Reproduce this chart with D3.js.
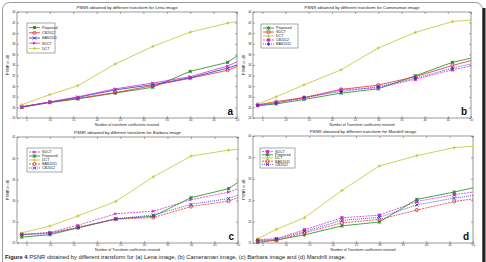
<!DOCTYPE html>
<html><head><meta charset="utf-8">
<script src="https://cdn.jsdelivr.net/npm/d3@7"></script>
<style>
html,body{margin:0;padding:0;background:#fff;}
svg{display:block;font-family:"Liberation Sans",Arial,sans-serif;}
</style></head>
<body>
<svg id="fig" width="486" height="262"></svg>
<script>
// ---------- data ----------
const xAC = [4, 10, 16, 24, 32, 40, 48, 50];
const xBD = [4, 8, 14, 22, 30, 38, 46, 50];
const xTicks = [5, 10, 15, 20, 25, 30, 35, 40, 45, 50];
const yTicksAB = [24, 26, 28, 30, 32, 34, 36, 38, 40, 42, 44];
const yTicksC = [20, 25, 30, 35, 40, 45];
const yTicksD = [15, 20, 25, 30, 35, 40];

// (a) Lena
const lenaProposed = [26.0, 26.9, 27.6, 28.7, 29.8, 32.8, 34.5, 35.7];
const lenaCB2012   = [26.1, 27.0, 27.7, 28.8, 30.1, 31.5, 33.0, 33.7];
const lenaBAS2011  = [26.1, 27.0, 27.9, 29.3, 30.3, 31.6, 33.4, 34.0];
const lenaSDCT     = [26.1, 27.0, 28.0, 29.5, 30.6, 31.8, 33.8, 34.6];
const lenaDCT      = [26.5, 28.4, 30.1, 34.2, 37.5, 40.2, 41.9, 42.2];
// (b) Cameraman
const camProposed = [26.3, 26.65, 27.5, 28.7, 29.5, 31.95, 34.5, 35.3];
const camSDCT     = [26.5, 27.1, 27.85, 29.4, 30.2, 31.8, 33.9, 34.85];
const camDCT      = [26.65, 28.0, 30.25, 33.1, 37.2, 40.15, 42.2, 42.5];
const camCB2012   = [26.4, 26.9, 27.7, 29.3, 29.7, 31.3, 33.1, 33.8];
const camBAS2011  = [26.4, 26.8, 27.9, 29.0, 29.9, 31.5, 33.4, 34.2];
// (c) Barbara
const barSDCT     = [22.0, 22.5, 24.2, 26.9, 27.5, 30.2, 32.0, 32.8];
const barProposed = [21.4, 21.95, 23.6, 25.7, 26.3, 30.7, 32.8, 34.3];
const barDCT      = [22.4, 24.0, 26.4, 29.8, 35.6, 40.5, 41.9, 42.1];
const barBAS2011  = [22.0, 22.4, 23.6, 25.6, 26.0, 28.6, 29.9, 30.7];
const barCB2012   = [22.0, 22.2, 23.7, 25.7, 26.6, 29.1, 30.5, 31.3];
// (d) Mandrill
const manSDCT     = [15.8, 16.0, 18.1, 20.9, 21.5, 24.7, 26.3, 26.9];
const manProposed = [15.1, 15.7, 16.9, 19.0, 19.9, 25.2, 26.9, 27.9];
const manDCT      = [16.0, 18.2, 20.9, 27.3, 33.0, 35.4, 37.3, 37.6];
const manBAS2011  = [15.5, 15.6, 17.4, 19.7, 20.5, 22.7, 24.7, 25.3];
const manCB2012   = [15.6, 15.9, 17.7, 20.3, 21.0, 23.9, 25.5, 26.1];

const titles = [
  "PSNR obtained by different transform for Lena image",
  "PSNR obtained by different transform for Cameraman image",
  "PSNR obtained by different transform for Barbara image",
  "PSNR obtained by different transform for Mandrill image"];
const xLabels = [
  "Number of transform coefficients retained",
  "Number of Transform coefficients retained",
  "Number of Transform coefficients retained",
  "Number of Transform coefficients retained"];
const yLabel = "PSNR in dB";
const letters = ["a", "b", "c", "d"];
const captionBold = "Figure 4";
const captionText = " PSNR obtained by different transform for (a) Lena image, (b) Cameraman image, (c) Barbara image and (d) Mandrill image.";

// ---------- styles ----------
const C = {green:"#1e8a1e", red:"#e03030", blue:"#3030d0", mag:"#d030d0", yel:"#c4c430"};
const st = {
  Proposed:{color:C.green, dash:null, marker:"star"},
  CB2012:{color:C.red, dash:null, marker:"circle"},
  BAS2011:{color:C.blue, dash:null, marker:"x"},
  SDCT:{color:C.mag, dash:null, marker:"tri"},
  DCT:{color:C.yel, dash:null, marker:"plus"}
};

const panels = [
  {box:[17,237,12,118], x:xAC, yd:[24,44], yt:yTicksAB, leg:[27,23,28,30],
   series:[["Proposed",lenaProposed,st.Proposed],["CB2012",lenaCB2012,st.CB2012],["BAS2011",lenaBAS2011,st.BAS2011],["SDCT",lenaSDCT,st.SDCT],["DCT",lenaDCT,st.DCT]]},
  {box:[253,471,12,118], x:xBD, yd:[24,44], yt:yTicksAB, leg:[261,24,37,24],
   series:[["Proposed",camProposed,st.Proposed],["SDCT",camSDCT,{color:C.red,dash:null,marker:"circle"}],["DCT",camDCT,st.DCT],["CB2012",camCB2012,{color:C.mag,dash:"2,1",marker:"square"}],["BAS2011",camBAS2011,{color:C.blue,dash:"1,1",marker:"diamond"}]]},
  {box:[17,238,137,243], x:xAC, yd:[20,45], yt:yTicksC, leg:[27,148,35,24],
   series:[["SDCT",barSDCT,{color:C.mag,dash:"2,1",marker:"tri"}],["Proposed",barProposed,st.Proposed],["DCT",barDCT,st.DCT],["BAS2011",barBAS2011,{color:C.red,dash:"2,1",marker:"circle"}],["CB2012",barCB2012,{color:C.blue,dash:"1,1",marker:"x"}]]},
  {box:[253,473,136,243], x:xBD, yd:[15,40], yt:yTicksD, leg:[260,148,35,20],
   series:[["SDCT",manSDCT,{color:C.mag,dash:"2,1",marker:"square"}],["Proposed",manProposed,st.Proposed],["DCT",manDCT,st.DCT],["BAS2011",manBAS2011,{color:C.red,dash:"2,1",marker:"circle"}],["CB2012",manCB2012,{color:C.blue,dash:"1,1",marker:"x"}]]}
];

const svg = d3.select("#fig");

// outer frame
svg.append("rect").attr("x",2.5).attr("y",2.5).attr("width",480).attr("height",280)
  .attr("rx",7).attr("fill","none").attr("stroke","#9a9a9a").attr("stroke-width",1);
svg.append("line").attr("x1",484).attr("x2",484).attr("y1",8).attr("y2",262)
  .attr("stroke","#222").attr("stroke-width",3);

function marker(g, type, x, y, color){
  const s = 1.6;
  if(type==="circle") g.append("circle").attr("cx",x).attr("cy",y).attr("r",s).attr("fill","none").attr("stroke",color).attr("stroke-width",0.8);
  else if(type==="tri") g.append("path").attr("d",`M${x+s+0.4},${y}L${x-s},${y-s}L${x-s},${y+s}Z`).attr("fill",color);
  else if(type==="square") g.append("rect").attr("x",x-s).attr("y",y-s).attr("width",2*s).attr("height",2*s).attr("fill",color);
  else if(type==="diamond") g.append("path").attr("d",`M${x},${y-s-0.3}L${x+s},${y}L${x},${y+s+0.3}L${x-s},${y}Z`).attr("fill",color);
  else {
    const p = g.append("g").attr("stroke",color).attr("stroke-width",0.9);
    if(type==="star"||type==="plus"){p.append("line").attr("x1",x-s).attr("x2",x+s).attr("y1",y).attr("y2",y);p.append("line").attr("x1",x).attr("x2",x).attr("y1",y-s).attr("y2",y+s);}
    if(type==="star"||type==="x"){p.append("line").attr("x1",x-s).attr("x2",x+s).attr("y1",y-s).attr("y2",y+s);p.append("line").attr("x1",x-s).attr("x2",x+s).attr("y1",y+s).attr("y2",y-s);}
  }
}

panels.forEach((P,i)=>{
  const [l,r,t,b] = P.box;
  const xs = d3.scaleLinear().domain([3,50]).range([l,r]);
  const ys = d3.scaleLinear().domain(P.yd).range([b,t]);
  const g = svg.append("g");
  g.append("rect").attr("x",l).attr("y",t).attr("width",r-l).attr("height",b-t)
    .attr("fill","#fff").attr("stroke","#555").attr("stroke-width",0.6);
  // axes
  g.append("g").attr("transform",`translate(0,${b})`)
    .call(d3.axisBottom(xs).tickValues(xTicks).tickSize(-2).tickPadding(1));
  g.append("g").attr("transform",`translate(${l},0)`)
    .call(d3.axisLeft(ys).tickValues(P.yt).tickSize(-2).tickPadding(1.5));
  g.append("g").attr("transform",`translate(0,${t})`)
    .call(d3.axisTop(xs).tickValues(xTicks).tickSize(-2).tickFormat(""));
  g.append("g").attr("transform",`translate(${r},0)`)
    .call(d3.axisRight(ys).tickValues(P.yt).tickSize(-2).tickFormat(""));
  g.selectAll(".domain").remove();
  g.selectAll(".tick line").attr("stroke","#555").attr("stroke-width",0.5);
  g.selectAll(".tick text").attr("font-size",3).attr("fill","#333");
  // title, labels
  g.append("text").attr("x",(l+r)/2).attr("y",t-3).attr("text-anchor","middle")
    .attr("font-size",4.3).attr("fill","#222").text(titles[i]);
  g.append("text").attr("x",(l+r)/2).attr("y",b+8.3).attr("text-anchor","middle")
    .attr("font-size",3.5).attr("fill","#222").text(xLabels[i]);
  g.append("text").attr("transform",`translate(${l-8.5},${(t+b)/2}) rotate(-90)`)
    .attr("text-anchor","middle").attr("font-size",3.8).attr("fill","#222").text(yLabel);
  // lines
  const line = d3.line().x((d,k)=>xs(P.x[k])).y(d=>ys(d));
  P.series.forEach(([name,vals,s])=>{
    g.append("path").attr("d",line(vals)).attr("fill","none").attr("stroke",s.color)
      .attr("stroke-width",0.8).attr("stroke-dasharray",s.dash);
    vals.forEach((v,k)=>{ if(k<vals.length-1) marker(g,s.marker,xs(P.x[k]),ys(v),s.color); });
  });
  // legend
  const [lx,ly,lw,lh] = P.leg;
  g.append("rect").attr("x",lx).attr("y",ly).attr("width",lw).attr("height",lh)
    .attr("fill","#fff").attr("stroke","#555").attr("stroke-width",0.5);
  const step = (lh-4)/5;
  P.series.forEach(([name,vals,s],k)=>{
    const yy = ly+2+step*(k+0.5);
    g.append("line").attr("x1",lx+2).attr("x2",lx+13).attr("y1",yy).attr("y2",yy)
      .attr("stroke",s.color).attr("stroke-width",0.8).attr("stroke-dasharray",s.dash);
    marker(g,s.marker,lx+7.5,yy,s.color);
    g.append("text").attr("x",lx+15).attr("y",yy+1.3).attr("font-size",3.6).attr("fill","#222").text(name);
  });
  // panel letter
  g.append("text").attr("x",r-4).attr("y",b-3).attr("text-anchor","end")
    .attr("font-size",10).attr("font-weight","bold").attr("fill","#111").text(letters[i]);
});

// caption
const cap = svg.append("text").attr("x",5).attr("y",259).attr("font-size",5.8).attr("fill","#222");
cap.append("tspan").attr("font-weight","bold").text(captionBold);
cap.append("tspan").text(captionText);
</script>
</body></html>
